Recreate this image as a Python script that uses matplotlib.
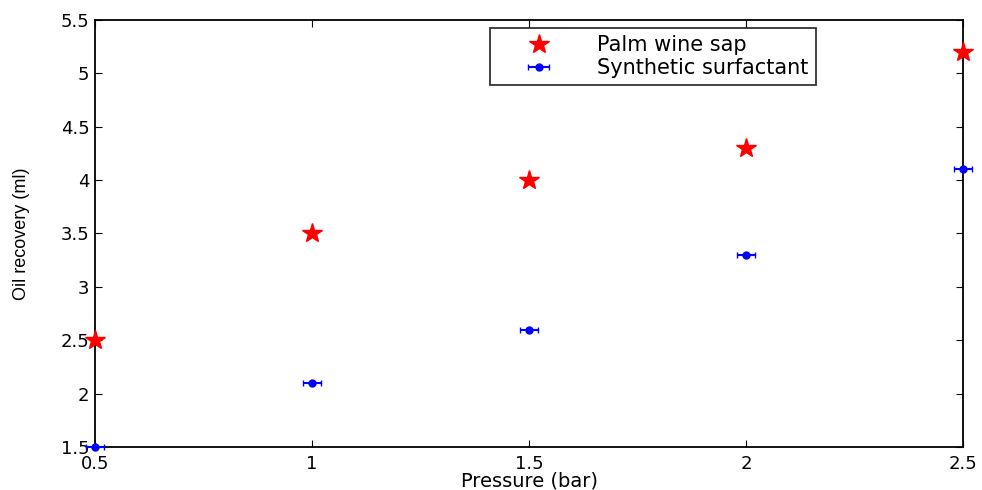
import matplotlib.pyplot as plt
import numpy as np

# Data
pressure = [0.5, 1.0, 1.5, 2.0, 2.5]
palm_wine = [2.5, 3.5, 4.0, 4.3, 5.2]
synthetic = [1.5, 2.1, 2.6, 3.3, 4.1]

plt.rcParams['font.family'] = ['DejaVu Sans']

fig = plt.figure(figsize=(9.82, 4.9), dpi=100)
ax = fig.add_axes([0.0967, 0.088, 0.884, 0.871])

ax.plot(pressure, palm_wine, linestyle='none', marker='*', color='red',
        markersize=15, label='Palm wine sap', clip_on=False, zorder=3)
ax.errorbar(pressure, synthetic, xerr=0.02, fmt='o', color='blue', markersize=5,
            elinewidth=1.5, capsize=2, label='Synthetic surfactant', clip_on=False, zorder=3)

ax.set_xlim(0.5, 2.5)
ax.set_ylim(1.5, 5.5)
ax.set_xticks([0.5, 1, 1.5, 2, 2.5])
ax.set_xticklabels(['0.5', '1', '1.5', '2', '2.5'])
ax.set_yticks(np.arange(1.5, 5.51, 0.5))
ax.set_yticklabels(['1.5', '2', '2.5', '3', '3.5', '4', '4.5', '5', '5.5'])
ax.tick_params(direction='in', top=True, right=True, labelsize=13, length=5)
ax.tick_params(axis='x', pad=6)
ax.tick_params(axis='y', pad=4)
for s in ax.spines.values():
    s.set_linewidth(1.3)

ax.set_xlabel('Pressure (bar)', fontsize=14, labelpad=-1)
ax.set_ylabel('Oil recovery (ml)', fontsize=13, labelpad=22, family='Liberation Sans')

leg = ax.legend(loc='upper left', bbox_to_anchor=(0.455, 0.982), fontsize=15,
                frameon=True, fancybox=False, edgecolor='black', handlelength=4,
                borderpad=0.35, labelspacing=0.15, handletextpad=0.8, borderaxespad=0)
leg.get_frame().set_linewidth(1.3)

fig.savefig('out.png', dpi=100)
